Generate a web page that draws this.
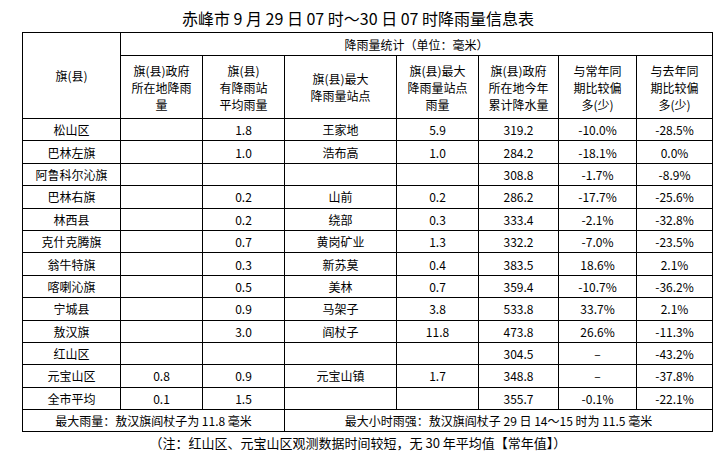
<!DOCTYPE html>
<html><head><meta charset="utf-8">
<script src="https://cdn.jsdelivr.net/npm/chart.js@4"></script>
<style>
body{margin:0;width:716px;height:462px;background:#fff;font-family:"Noto Sans CJK SC",sans-serif;color:#000}
h1{font-size:16px;font-weight:normal;text-align:center;margin:0;position:absolute;top:7px;left:0;width:716px;line-height:22px}
table{position:absolute;left:22px;top:32px;border-collapse:collapse;font-size:12px;table-layout:fixed}
td{border:1px solid #000;text-align:center;padding:0;line-height:17px;height:21.4px;white-space:nowrap}
.h td{height:auto}
.note{position:absolute;top:433px;left:0;width:716px;text-align:center;font-size:13px}
</style></head><body>
<h1>赤峰市 9 月 29 日 07 时～30 日 07 时降雨量信息表</h1>
<table id="t"></table>
<div class="note">（注：红山区、元宝山区观测数据时间较短，无 30 年平均值【常年值】）</div>
<script>
const regions=["松山区","巴林左旗","阿鲁科尔沁旗","巴林右旗","林西县","克什克腾旗","翁牛特旗","喀喇沁旗","宁城县","敖汉旗","红山区","元宝山区","全市平均"];
const govRain=["","","","","","","","","","","","0.8","0.1"];
const avgRain=["1.8","1.0","","0.2","0.2","0.7","0.3","0.5","0.9","3.0","","0.9","1.5"];
const maxStation=["王家地","浩布高","","山前","绕部","黄岗矿业","新苏莫","美林","马架子","阎杖子","","元宝山镇",""];
const maxRain=["5.9","1.0","","0.2","0.3","1.3","0.4","0.7","3.8","11.8","","1.7",""];
const yearTotal=["319.2","284.2","308.8","286.2","333.4","332.2","383.5","359.4","533.8","473.8","304.5","348.8","355.7"];
const vsNormal=["-10.0%","-18.1%","-1.7%","-17.7%","-2.1%","-7.0%","18.6%","-10.7%","33.7%","26.6%","–","–","-0.1%"];
const vsLastYear=["-28.5%","0.0%","-8.9%","-25.6%","-32.8%","-23.5%","2.1%","-36.2%","2.1%","-11.3%","-43.2%","-37.8%","-22.1%"];
const widths=[98,82,82,112,82,80,78,76];
let h='<colgroup>'+widths.map(w=>`<col style="width:${w}px">`).join('')+'</colgroup>';
h+='<tr class="h"><td rowspan="2">旗(县)</td><td colspan="7" style="height:22px">降雨量统计（单位：毫米）</td></tr>';
h+='<tr class="h" style="height:63px"><td>旗(县)政府<br>所在地降雨<br>量</td><td>旗(县)<br>有降雨站<br>平均雨量</td><td>旗(县)最大<br>降雨量站点</td><td>旗(县)最大<br>降雨量站点<br>雨量</td><td>旗(县)政府<br>所在地今年<br>累计降水量</td><td>与常年同<br>期比较偏<br>多(少)</td><td>与去年同<br>期比较偏<br>多(少)</td></tr>';
regions.forEach((r,i)=>{h+=`<tr><td>${r}</td><td>${govRain[i]}</td><td>${avgRain[i]}</td><td>${maxStation[i]}</td><td>${maxRain[i]}</td><td>${yearTotal[i]}</td><td>${vsNormal[i]}</td><td>${vsLastYear[i]}</td></tr>`});
h+='<tr><td colspan="3">最大雨量：敖汉旗阎杖子为 11.8 毫米</td><td colspan="5">最大小时雨强：敖汉旗阎杖子 29 日 14～15 时为 11.5 毫米</td></tr>';
document.getElementById('t').innerHTML=h;
</script></body></html>
